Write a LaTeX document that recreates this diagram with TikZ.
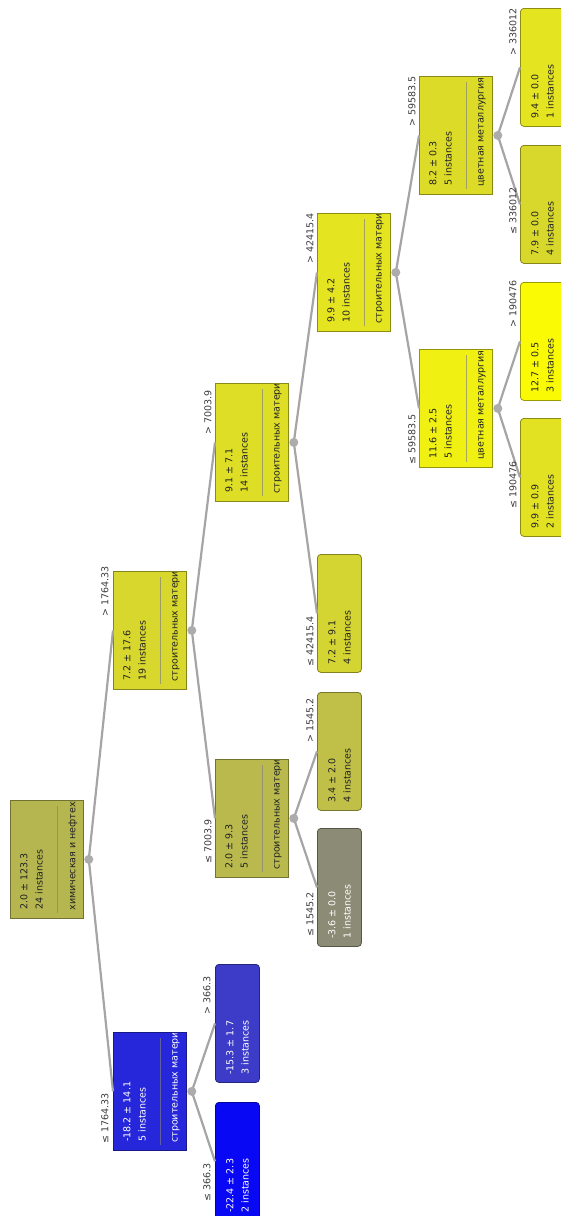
\documentclass[tikz,border=0pt]{standalone}
\usepackage{fontspec}
\setmainfont{DejaVu Sans}
\definecolor{cRoot}{RGB}{182,182,80}
\definecolor{cA}{RGB}{38,38,218}
\definecolor{cAA}{RGB}{8,8,245}
\definecolor{cAB}{RGB}{60,60,200}
\definecolor{cB}{RGB}{215,215,45}
\definecolor{cBA}{RGB}{185,185,78}
\definecolor{cBAA}{RGB}{140,140,118}
\definecolor{cBAB}{RGB}{192,192,72}
\definecolor{cBB}{RGB}{222,222,38}
\definecolor{cBBA}{RGB}{212,212,50}
\definecolor{cBBB}{RGB}{228,228,32}
\definecolor{cBBBA}{RGB}{240,240,18}
\definecolor{cBBBAA}{RGB}{226,226,34}
\definecolor{cBBBAB}{RGB}{250,250,5}
\definecolor{cBBBB}{RGB}{220,220,40}
\definecolor{cBBBBA}{RGB}{216,216,44}
\definecolor{cBBBBB}{RGB}{228,228,32}
\definecolor{dark}{RGB}{34,34,34}
\definecolor{lblc}{RGB}{60,60,60}
\definecolor{edgec}{RGB}{165,165,165}
\definecolor{dotc}{RGB}{172,172,172}
\newcommand\InNode[8]{%
  \node[innode=#4] (#1) at (#2,#3) {};
  \draw[sepline] ([shift={(47,6)}]#1.north west) -- ([shift={(47,-6)}]#1.south west);
  \node[txt,text=#5] at ([shift={(14,-9)}]#1.south west) {#6};
  \node[txt,text=#5] at ([shift={(29,-9)}]#1.south west) {#7};
  \begin{scope}
    \clip ([shift={(1,1)}]#1.north west) rectangle ([shift={(-1,-1)}]#1.south east);
    \node[txt,text=#5] at ([shift={(63,-8)}]#1.south west) {#8};
  \end{scope}
  \coordinate (#1d) at ([shift={(5,0)}]#1.east);
}
\newcommand\LfNode[7]{%
  \node[lfnode=#4] (#1) at (#2,#3) {};
  \node[txt,text=#5] at ([shift={(15,-8)}]#1.south west) {#6};
  \node[txt,text=#5] at ([shift={(30,-8)}]#1.south west) {#7};
}
\begin{document}
\begin{tikzpicture}[x=1pt,y=-1pt,
  font=\fontsize{9.5}{11}\selectfont,
  boxbase/.style={draw=#1!62!black, fill=#1, line width=0.8pt, anchor=north west,
    inner sep=0pt, minimum height=118pt},
  innode/.style={boxbase=#1, minimum width=73pt},
  lfnode/.style={boxbase=#1, minimum width=44pt, rounded corners=3.5pt},
  txt/.style={rotate=90, anchor=west, inner sep=0pt},
  lbl/.style={rotate=90, inner sep=0pt, text=lblc},
  edgeline/.style={draw=edgec, line width=2.2pt},
  dotmark/.style={circle, fill=dotc, inner sep=0pt, minimum size=9pt},
  sepline/.style={draw=gray, draw opacity=0.65, line width=0.8pt}]
\useasboundingbox (0,0) rectangle (561,1216);
\fill[white] (0,0) rectangle (561,1216);

% internal nodes
\InNode{root}{10}{800}{cRoot}{dark}{2.0 ± 123.3}{24 instances}{химическая и нефтехимическая промышленность}
\InNode{nA}{113}{1032}{cA}{white}{-18.2 ± 14.1}{5 instances}{строительных материалов}
\InNode{nB}{113}{571}{cB}{dark}{7.2 ± 17.6}{19 instances}{строительных материалов}
\InNode{nBA}{215}{759}{cBA}{dark}{2.0 ± 9.3}{5 instances}{строительных материалов}
\InNode{nBB}{215}{383}{cBB}{dark}{9.1 ± 7.1}{14 instances}{строительных материалов}
\InNode{nBBB}{317}{213}{cBBB}{dark}{9.9 ± 4.2}{10 instances}{строительных материалов}
\InNode{nBBBA}{419}{349}{cBBBA}{dark}{11.6 ± 2.5}{5 instances}{цветная металлургия}
\InNode{nBBBB}{419}{76}{cBBBB}{dark}{8.2 ± 0.3}{5 instances}{цветная металлургия}

% leaves
\LfNode{nAA}{215}{1102}{cAA}{white}{-22.4 ± 2.3}{2 instances}
\LfNode{nAB}{215}{964}{cAB}{white}{-15.3 ± 1.7}{3 instances}
\LfNode{nBAA}{317}{828}{cBAA}{white}{-3.6 ± 0.0}{1 instances}
\LfNode{nBAB}{317}{692}{cBAB}{dark}{3.4 ± 2.0}{4 instances}
\LfNode{nBBA}{317}{554}{cBBA}{dark}{7.2 ± 9.1}{4 instances}
\LfNode{nBBBAA}{520}{418}{cBBBAA}{dark}{9.9 ± 0.9}{2 instances}
\LfNode{nBBBAB}{520}{282}{cBBBAB}{dark}{12.7 ± 0.5}{3 instances}
\LfNode{nBBBBA}{520}{145}{cBBBBA}{dark}{7.9 ± 0.0}{4 instances}
\LfNode{nBBBBB}{520}{8}{cBBBBB}{dark}{9.4 ± 0.0}{1 instances}

% edges
\draw[edgeline] (rootd) -- (nA.west);
\draw[edgeline] (rootd) -- (nB.west);
\draw[edgeline] (nAd) -- (nAA.west);
\draw[edgeline] (nAd) -- (nAB.west);
\draw[edgeline] (nBd) -- (nBA.west);
\draw[edgeline] (nBd) -- (nBB.west);
\draw[edgeline] (nBAd) -- (nBAA.west);
\draw[edgeline] (nBAd) -- (nBAB.west);
\draw[edgeline] (nBBd) -- (nBBA.west);
\draw[edgeline] (nBBd) -- (nBBB.west);
\draw[edgeline] (nBBBd) -- (nBBBA.west);
\draw[edgeline] (nBBBd) -- (nBBBB.west);
\draw[edgeline] (nBBBAd) -- (nBBBAA.west);
\draw[edgeline] (nBBBAd) -- (nBBBAB.west);
\draw[edgeline] (nBBBBd) -- (nBBBBA.west);
\draw[edgeline] (nBBBBd) -- (nBBBBB.west);

% split dots
\foreach \n in {root,nA,nB,nBA,nBB,nBBB,nBBBA,nBBBB}
  \node[dotmark] (\n dm) at (\n d) {};

% edge labels
\node[lbl,anchor=west] (lA) at (105,1144) {≤ 1764.33};
\node[lbl,anchor=east] (lB) at (105,566) {> 1764.33};
\node[lbl,anchor=west] (lAA) at (207,1202) {≤ 366.3};
\node[lbl,anchor=east] (lAB) at (207,976) {> 366.3};
\node[lbl,anchor=west] (lBA) at (208,864) {≤ 7003.9};
\node[lbl,anchor=east] (lBB) at (208,390) {> 7003.9};
\node[lbl,anchor=west] (lBAA) at (310,937) {≤ 1545.2};
\node[lbl,anchor=east] (lBAB) at (310,698) {> 1545.2};
\node[lbl,anchor=west] (lBBA) at (310,667) {≤ 42415.4};
\node[lbl,anchor=east] (lBBB) at (310,213) {> 42415.4};
\node[lbl,anchor=west] (lBBBA) at (412,465) {≤ 59583.5};
\node[lbl,anchor=east] (lBBBB) at (412,76) {> 59583.5};
\node[lbl,anchor=west] (lBBBAA) at (513,509) {≤ 190476};
\node[lbl,anchor=east] (lBBBAB) at (513,280) {> 190476};
\node[lbl,anchor=west] (lBBBBA) at (513,235) {≤ 336012};
\node[lbl,anchor=east] (lBBBBB) at (513,8) {> 336012};
\end{tikzpicture}
\end{document}
